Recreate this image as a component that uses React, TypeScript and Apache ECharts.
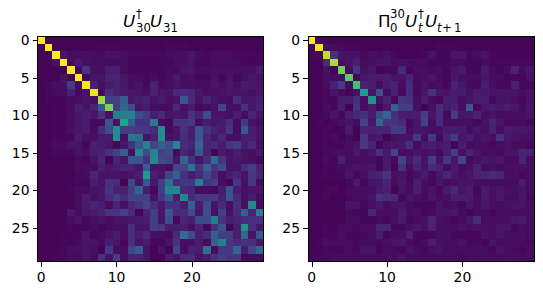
import React, { useEffect, useRef } from "react";
import * as echarts from "echarts";

const cells = Array.from({ length: 30 }, (_, i) => String(i));
const viridis = ["#440154","#471365","#482475","#463480","#414487","#3b528b","#355f8d","#2f6c8e","#2a788e","#25858e","#21918c","#1e9c89","#22a884","#2fb47c","#44bf70","#5ec962","#7ad151","#9bd93c","#bddf26","#dfe318","#fde725"];

const leftRows = [
[100,1,1,1,1,1,1,1,1,1,1,1,1,1,1,1,1,1,1,1,1,1,1,1,1,1,1,1,1,1],
[1,100,1,1,1,1,1,1,2,2,2,1,1,1,1,1,1,2,2,2,1,1,1,1,1,1,1,1,1,1],
[1,1,100,6,3,3,4,3,3,5,5,3,2,2,2,2,2,3,4,4,6,3,2,3,3,3,2,2,2,2],
[1,1,5,100,3,7,4,3,3,3,3,3,2,2,2,2,2,2,4,4,5,2,2,3,3,3,3,2,2,2],
[1,1,1,1,100,2,15,4,3,8,8,3,2,2,2,2,2,3,3,5,6,3,3,4,4,4,4,4,4,8],
[1,1,1,5,1,100,2,5,5,9,10,6,3,3,2,3,2,3,7,3,4,2,2,5,2,5,2,4,6,4],
[1,2,4,4,17,2,98,9,4,7,9,7,3,5,2,9,3,4,5,4,4,3,3,6,4,6,4,7,6,5],
[1,2,3,3,9,2,5,97,3,13,9,8,6,5,4,9,6,5,11,12,11,6,4,4,5,6,5,5,4,6],
[1,2,2,2,3,4,5,4,85,18,18,28,6,8,9,5,7,4,5,27,12,5,10,6,4,3,12,6,7,8],
[1,1,2,2,3,8,5,10,28,80,18,32,24,5,8,4,3,3,11,4,7,2,3,5,20,5,4,14,6,9],
[1,1,2,2,4,6,8,6,15,4,42,42,42,22,18,8,12,5,6,5,14,9,22,6,5,4,8,3,10,5],
[1,1,2,2,3,6,8,2,2,26,5,58,30,14,14,40,4,2,15,15,17,3,8,6,7,13,3,16,5,3],
[1,1,2,2,4,6,7,3,13,22,48,18,18,16,16,12,48,3,6,14,8,27,14,9,7,15,3,27,8,5],
[1,1,2,2,2,8,4,4,7,7,48,4,40,36,5,9,48,5,6,12,8,27,10,6,11,4,4,8,8,5],
[1,1,3,3,5,5,2,8,8,6,2,6,14,28,44,20,30,24,45,12,10,32,10,12,8,15,18,8,12,4],
[1,1,2,2,2,5,4,8,9,14,19,30,4,46,22,44,20,22,3,10,7,28,10,1,7,4,8,5,4,7],
[1,1,1,1,1,3,2,5,11,1,10,5,27,27,14,46,22,20,6,32,14,6,13,34,15,5,6,5,4,2],
[1,1,1,1,1,3,3,3,9,6,8,10,9,6,30,5,5,3,20,20,38,15,30,15,22,5,5,13,18,9],
[1,1,1,1,1,2,3,10,5,5,5,4,6,8,55,8,6,20,30,14,8,12,22,12,3,8,10,5,16,10],
[1,1,1,1,1,2,2,8,5,14,12,1,22,6,28,6,18,36,12,16,15,42,15,18,3,1,15,4,16,3],
[1,1,1,1,2,3,3,5,6,15,9,9,18,32,8,2,18,45,45,12,10,3,3,2,8,26,8,4,6,6],
[1,1,1,1,1,3,8,4,6,12,18,12,19,19,19,5,16,28,8,46,12,16,16,16,9,26,12,4,8,3],
[1,1,1,1,1,3,7,10,8,3,10,4,11,15,20,12,7,14,14,8,30,8,22,5,12,3,14,4,47,3],
[1,1,1,1,7,3,6,7,9,15,15,19,12,1,10,18,6,26,12,13,22,6,24,4,18,4,12,30,10,42],
[1,1,1,1,4,6,2,4,5,3,5,5,7,7,8,18,6,24,2,10,8,22,22,42,15,8,10,12,14,14],
[1,1,1,1,2,2,2,3,2,3,4,3,13,5,6,18,16,8,8,8,4,10,2,14,25,1,8,52,14,6],
[1,1,1,2,2,2,6,2,3,5,8,3,13,8,12,4,4,3,12,36,22,8,12,30,18,18,8,32,6,28],
[1,1,1,2,2,3,5,5,3,8,6,2,14,6,8,2,2,5,15,4,4,8,3,30,42,16,12,14,14,6],
[1,1,1,2,4,4,5,4,1,16,3,4,20,28,5,1,5,1,20,3,9,8,36,3,16,16,32,8,20,33],
[1,1,2,2,3,3,5,3,14,5,18,4,9,9,6,1,1,8,5,12,12,5,7,14,18,15,15,2,3,3],
];

const rightRows = [
[99,2,1,1,1,1,1,1,1,1,1,1,1,1,1,1,1,1,1,1,1,1,1,1,1,1,1,1,1,1],
[1,98,4,3,2,2,2,1,1,1,1,1,1,1,1,1,1,2,2,2,1,1,1,1,1,1,1,1,1,1],
[1,2,90,14,5,5,5,2,4,3,5,2,1,1,1,2,5,2,2,6,6,2,3,5,2,1,1,1,1,1],
[1,1,12,87,3,5,8,3,4,5,5,3,4,4,3,3,2,2,2,3,3,2,2,3,2,2,2,2,2,2],
[1,1,5,1,78,3,15,4,6,1,2,2,12,2,4,4,3,4,2,5,7,2,2,7,3,2,4,9,3,6],
[1,1,4,3,4,75,2,6,8,7,8,5,5,9,3,4,6,3,2,6,4,3,3,6,3,3,2,2,2,5],
[1,1,3,9,18,3,70,9,8,3,8,10,3,12,3,5,3,4,2,9,6,3,2,8,4,2,2,9,2,2],
[1,1,2,5,3,1,5,55,5,24,3,9,2,13,2,6,14,6,5,8,8,4,7,7,5,5,5,5,4,5],
[1,1,2,2,8,8,13,3,50,4,10,2,15,14,3,8,3,2,8,8,3,5,8,8,2,5,5,4,2,5],
[1,1,4,2,8,1,15,4,7,2,6,30,18,18,4,1,4,13,7,10,4,27,2,6,7,6,8,6,3,6],
[1,1,2,5,2,8,11,14,8,22,32,14,8,7,8,18,6,12,2,18,6,6,9,4,5,3,3,4,4,5],
[1,2,1,2,4,5,3,20,6,32,15,15,12,2,6,20,3,12,3,3,4,4,2,5,10,5,2,3,3,2],
[1,1,2,1,1,7,1,9,9,10,10,18,17,3,6,5,4,4,7,7,7,3,6,4,9,3,7,6,6,5],
[1,1,2,3,1,3,1,16,6,7,1,4,5,5,16,3,16,2,10,17,6,8,4,6,4,14,6,5,4,4],
[1,1,2,2,2,4,5,16,10,1,5,6,6,13,3,7,8,6,8,1,8,3,4,4,2,4,5,3,3,2],
[1,1,2,3,4,3,7,4,6,14,7,20,3,4,6,4,5,2,8,18,4,9,5,3,4,3,5,5,10,9],
[1,1,3,2,9,3,3,4,4,2,7,2,20,6,12,5,17,5,16,6,20,2,4,6,5,6,3,3,10,3],
[1,1,2,2,3,4,5,5,6,2,7,1,14,3,9,5,12,9,3,7,3,4,9,3,4,3,4,4,4,3],
[1,1,2,2,2,6,2,4,8,10,15,4,5,2,4,7,2,6,10,6,4,6,9,10,12,10,4,4,2,3],
[1,1,1,1,1,2,7,2,5,6,10,3,6,2,8,4,2,6,3,4,5,5,4,3,3,3,3,3,8,3],
[1,1,2,2,1,3,3,3,4,7,9,1,5,3,8,3,5,2,7,11,5,7,2,7,4,6,4,4,5,3],
[1,1,2,1,1,2,3,3,5,15,12,11,2,5,4,3,6,3,4,8,8,7,3,7,4,6,3,3,6,2],
[1,1,1,1,1,5,5,2,4,6,3,5,5,3,2,2,2,5,3,4,2,6,3,6,4,3,4,5,5,3],
[1,1,1,1,1,3,2,2,10,4,3,3,7,3,4,2,3,5,5,6,3,1,3,3,2,3,3,3,3,4],
[1,1,1,1,1,3,3,2,2,3,2,4,7,2,3,4,10,4,3,2,3,6,12,3,4,4,4,6,7,3],
[1,1,2,2,3,3,2,3,3,10,10,2,2,4,6,4,9,3,3,3,5,4,5,4,3,6,6,2,4,3],
[1,1,2,2,4,2,2,2,4,7,2,4,3,9,2,2,2,4,4,2,2,2,2,5,3,5,3,3,4,3],
[1,2,4,3,3,3,2,3,3,2,4,5,6,3,2,3,8,4,3,3,5,2,3,1,5,3,3,3,3,2],
[1,1,2,2,2,3,2,5,5,1,3,3,2,5,3,2,4,5,3,3,3,3,4,3,2,5,3,3,2,3],
[1,2,2,3,3,3,3,3,3,3,3,3,5,3,3,3,3,3,3,3,2,3,3,4,3,3,3,4,3,3],
];

const toCells = (rows: number[][]) =>
  rows.flatMap((row, r) => row.map((v, c) => [c, r, v]));

const line = { show: true, onZero: false, lineStyle: { color: "#000", width: 1 } };
const tickStyle = { lineStyle: { color: "#000", width: 1 }, length: 5, alignWithLabel: true };
const labelStyle = { color: "#000", fontSize: 13.9, fontFamily: "DejaVu Sans" };

const xMain = (gridIndex: number) => ({
  type: "category", gridIndex, data: cells, position: "bottom", z: 6, axisLine: line,
  axisTick: { ...tickStyle, show: true, interval: 9 },
  axisLabel: { ...labelStyle, interval: 9, margin: 8 },
  splitLine: { show: false },
});
const xEdge = (gridIndex: number) => ({
  type: "category", gridIndex, data: cells, position: "top", z: 6, axisLine: line,
  axisTick: { show: false }, axisLabel: { show: false }, splitLine: { show: false },
});
const yMain = (gridIndex: number) => ({
  type: "category", gridIndex, data: cells, position: "left", inverse: true, z: 6, axisLine: line,
  axisTick: { ...tickStyle, show: true, interval: 4 },
  axisLabel: { ...labelStyle, interval: 4, margin: 8, padding: [2, 0, 0, 0] },
  splitLine: { show: false },
});
const yEdge = (gridIndex: number) => ({
  type: "category", gridIndex, data: cells, position: "right", inverse: true, z: 6, axisLine: line,
  axisTick: { show: false }, axisLabel: { show: false }, splitLine: { show: false },
});

const mathFont = '16.67px "DejaVu Sans"';
const mathItalic = 'italic 16.67px "DejaVu Sans"';
const smallFont = '11.67px "DejaVu Sans"';
const smallItalic = 'italic 11.67px "DejaVu Sans"';
const frag = (text: string, x: number, y: number, font: string) => ({
  type: "text", x, y, z: 20, silent: true,
  style: { text, font, fill: "#000", align: "left", verticalAlign: "middle" },
});

export default function App() {
  const ref = useRef<HTMLDivElement>(null);
  useEffect(() => {
    const chart = echarts.init(ref.current!, null, { renderer: "svg" });
    chart.setOption({
      animation: false,
      backgroundColor: "#fff",
      grid: [
        { left: 37.5, top: 36.5, width: 226, height: 225, containLabel: false },
        { left: 308, top: 36.5, width: 226, height: 225, containLabel: false },
      ],
      xAxis: [xMain(0), xEdge(0), xMain(1), xEdge(1)],
      yAxis: [yMain(0), yEdge(0), yMain(1), yEdge(1)],
      visualMap: { show: false, min: 0, max: 100, seriesIndex: [0, 1], inRange: { color: viridis } },
      series: [
        { type: "heatmap", xAxisIndex: 0, yAxisIndex: 0, data: toCells(leftRows), itemStyle: { borderWidth: 0 }, progressive: 0 },
        { type: "heatmap", xAxisIndex: 2, yAxisIndex: 2, data: toCells(rightRows), itemStyle: { borderWidth: 0 }, progressive: 0 },
      ],
      graphic: [
        frag("U", 123, 21, mathItalic),
        frag("†", 136, 14, smallFont),
        frag("30", 136, 28, smallFont),
        frag("U", 150, 21, mathItalic),
        frag("31", 163, 28, smallFont),
        frag("Π", 378, 21, mathFont),
        frag("30", 390, 14, smallFont),
        frag("0", 390, 28, smallFont),
        frag("U", 405, 21, mathItalic),
        frag("†", 418, 14, smallFont),
        frag("t", 418, 28, smallItalic),
        frag("U", 425, 21, mathItalic),
        frag("t", 437, 28, smallItalic),
        frag("+", 442, 28, smallFont),
        frag("1", 454, 28, smallFont),
      ],
    });
    return () => chart.dispose();
  }, []);
  return <div ref={ref} style={{ position: "absolute", left: 0, top: 0, width: 543, height: 295, shapeRendering: "crispEdges" }} />;
}
